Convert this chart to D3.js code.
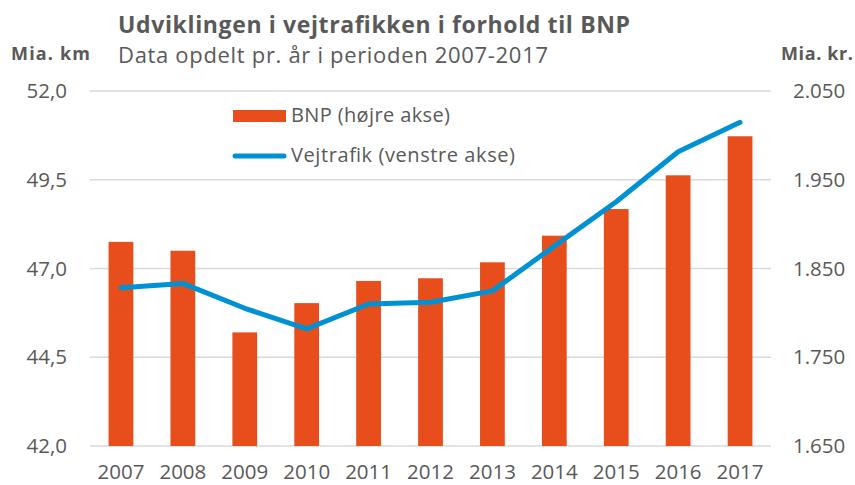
<!DOCTYPE html>
<html><head><meta charset="utf-8">
<script src="https://cdn.jsdelivr.net/npm/d3@7"></script>
<style>body{margin:0;background:#fff}svg{display:block}</style>
</head><body>
<svg id="c" width="855" height="485"></svg>
<script>
const years = ["2007","2008","2009","2010","2011","2012","2013","2014","2015","2016","2017"];
const bnp = [1880, 1870, 1778, 1811, 1836, 1839, 1857, 1887, 1917, 1955, 1999];
const vejtrafik = [46.46, 46.58, 45.88, 45.30, 46.00, 46.05, 46.37, 47.63, 48.88, 50.29, 51.12];
const leftTicks = [42, 44.5, 47, 49.5, 52];
const rightTicks = [1650, 1750, 1850, 1950, 2050];

const svg = d3.select("#c");
const font = "'Open Sans', sans-serif";
const grey = "#595959";
const W = {l: 90, r: 771, t: 91, b: 446};

const x = d3.scaleBand().domain(years).range([W.l, W.r]).paddingInner(0.6).paddingOuter(0.3);
const yL = d3.scaleLinear().domain([42, 52]).range([W.b, W.t]);
const yR = d3.scaleLinear().domain([1650, 2050]).range([W.b, W.t]);

// gridlines
svg.append("g").selectAll("line").data(leftTicks).join("line")
  .attr("x1", W.l).attr("x2", W.r)
  .attr("y1", d => yL(d)).attr("y2", d => yL(d))
  .attr("stroke", "#d9d9d9").attr("stroke-width", 1.5);

// left axis
const fmtL = d => d3.format(".1f")(d).replace(".", ",");
const axL = svg.append("g").attr("transform", `translate(${W.l},0)`)
  .call(d3.axisLeft(yL).tickValues(leftTicks).tickFormat(fmtL).tickSize(0).tickPadding(23));
axL.select(".domain").remove();
axL.selectAll("text").attr("font-family", font).attr("font-size", 20.5).attr("fill", grey);

// right axis
const fmtR = d => d3.format(",.3f")(d/1000);
const axR = svg.append("g").attr("transform", `translate(${W.r},0)`)
  .call(d3.axisRight(yR).tickValues(rightTicks).tickFormat(fmtR).tickSize(0).tickPadding(22));
axR.select(".domain").remove();
axR.selectAll("text").attr("font-family", font).attr("font-size", 20.5).attr("fill", grey);

// x axis
const axX = svg.append("g").attr("transform", `translate(0,${W.b})`)
  .call(d3.axisBottom(x).tickSize(0).tickPadding(18));
axX.select(".domain").remove();
axX.selectAll("text").attr("font-family", font).attr("font-size", 20.5).attr("fill", grey);

// bars
svg.append("g").selectAll("rect").data(years).join("rect")
  .attr("x", d => x(d)).attr("width", x.bandwidth())
  .attr("y", (d,i) => yR(bnp[i])).attr("height", (d,i) => W.b - yR(bnp[i]))
  .attr("fill", "#e84e1b");

// line
const line = d3.line().x((d,i) => x(years[i]) + x.bandwidth()/2).y(d => yL(d));
svg.append("path").datum(vejtrafik).attr("d", line)
  .attr("fill", "none").attr("stroke", "#0091d5").attr("stroke-width", 5)
  .attr("stroke-linecap", "round").attr("stroke-linejoin", "round");

function txt(xp, yp, s, size, weight, len, anchor) {
  const t = svg.append("text").attr("x", xp).attr("y", yp).text(s)
    .attr("font-family", font).attr("font-size", size).attr("font-weight", weight).attr("fill", grey);
  if (anchor) t.attr("text-anchor", anchor);
  if (len) t.attr("textLength", len).attr("lengthAdjust", "spacing");
  return t;
}

// legend
svg.append("rect").attr("x", 233).attr("y", 110).attr("width", 53).attr("height", 12).attr("fill", "#e84e1b");
txt(291, 122, "BNP (højre akse)", 20, "normal", 159);
svg.append("line").attr("x1", 235).attr("x2", 284).attr("y1", 156).attr("y2", 156)
  .attr("stroke", "#0091d5").attr("stroke-width", 5).attr("stroke-linecap", "round");
txt(291, 162, "Vejtrafik (venstre akse)", 20, "normal", 224);

// titles
txt(118, 33, "Udviklingen i vejtrafikken i forhold til BNP", 23, "bold", 512);
txt(118, 63, "Data opdelt pr. år i perioden 2007-2017", 22, "normal", 430);
txt(11, 60, "Mia. km", 18, "bold", 79);
txt(781, 60, "Mia. kr.", 18, "bold", 72);
</script>
</body></html>
